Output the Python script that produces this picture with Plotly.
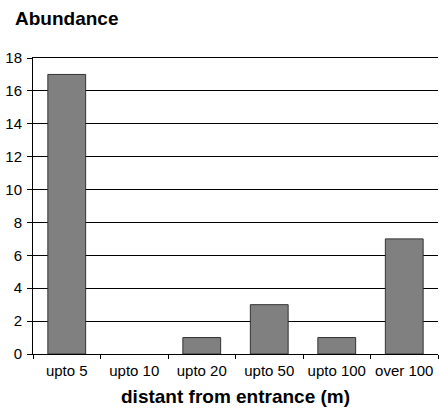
import plotly.graph_objects as go

categories = ["upto 5", "upto 10", "upto 20", "upto 50", "upto 100", "over 100"]
abundance = [17, 0, 1, 3, 1, 7]
y_ticks = [0, 2, 4, 6, 8, 10, 12, 14, 16, 18]

fig = go.Figure(go.Bar(
    x=categories, y=abundance,
    marker=dict(color="#808080",
                line=dict(color="#333333", width=[0 if v == 0 else 1 for v in abundance])),
    width=0.56,
))

fig.update_layout(
    width=439, height=410,
    margin=dict(l=33, r=1, t=58, b=56),
    paper_bgcolor="white", plot_bgcolor="white",
    font=dict(family="Liberation Sans, Arial, sans-serif", size=15, color="black"),
    showlegend=False,
)
fig.add_annotation(text="<b>Abundance</b>", xref="paper", yref="paper",
                   x=-0.049, y=1.132, xanchor="left", yanchor="middle",
                   showarrow=False, font=dict(size=19))
fig.add_annotation(text="<b>distant from entrance (m)</b>", xref="paper", yref="paper",
                   x=0.5, y=-0.145, xanchor="center", yanchor="middle",
                   showarrow=False, font=dict(size=19))

fig.update_xaxes(
    automargin=False,
    showline=True, linecolor="black", linewidth=1, mirror=True,
    ticks="outside", ticklen=4, tickcolor="black", tickson="boundaries",
    showgrid=False, ticklabelstandoff=3,
    tickfont=dict(size=15),
)
fig.update_yaxes(
    automargin=False,
    range=[0, 18], tickvals=y_ticks,
    showline=True, linecolor="black", linewidth=1,
    ticks="outside", ticklen=5, tickcolor="black",
    showgrid=True, gridcolor="black", gridwidth=1,
    zeroline=False, tickfont=dict(size=15), ticklabelstandoff=2,
)

fig.write_html("out.html", config={"displayModeBar": False},
               post_script="document.body.style.margin='0';")
